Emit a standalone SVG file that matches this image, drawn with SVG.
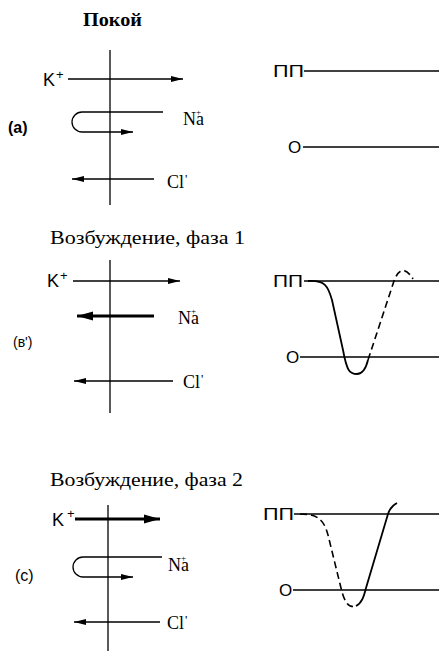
<svg xmlns="http://www.w3.org/2000/svg" width="439" height="651" viewBox="0 0 439 651">
<style>
.ln{stroke:#000;stroke-width:1.3;fill:none}
.thk{stroke:#000;stroke-width:3.2;fill:none}
.crv{stroke:#000;stroke-width:1.8;fill:none}
.dsh{stroke:#000;stroke-width:1.6;fill:none;stroke-dasharray:7 4}
.ser{font-family:"Liberation Serif","DejaVu Serif",serif;fill:#000}
.sans{font-family:"Liberation Sans","DejaVu Sans",sans-serif;fill:#000}
.ttl{font-size:18px}
.ion{font-size:18px}
.k{font-size:18px}
.pp{font-size:17px}
.lbl{font-size:16px}
</style>
<defs>
<marker id="ah" markerUnits="userSpaceOnUse" markerWidth="14" markerHeight="8" refX="12" refY="4" orient="auto">
<polygon points="0,1 12,4 0,7" fill="#000"/>
</marker>
<marker id="ahb" markerUnits="userSpaceOnUse" markerWidth="18" markerHeight="10" refX="16" refY="5" orient="auto">
<polygon points="0,0.5 16,5 0,9.5" fill="#000"/>
</marker>
</defs>

<g id="titles">
<text class="ser ttl" x="83" y="26" textLength="59" lengthAdjust="spacingAndGlyphs" font-weight="bold">Покой</text>
<text class="ser ttl" x="50" y="244" textLength="195" lengthAdjust="spacingAndGlyphs">Возбуждение, фаза 1</text>
<text class="ser ttl" x="50" y="486" textLength="193" lengthAdjust="spacingAndGlyphs">Возбуждение, фаза  2</text>
</g>

<g id="labels">
<text class="sans lbl" x="8" y="133" font-weight="bold">(а)</text>
<text class="sans" font-size="14" x="13" y="347">(в')</text>
<text class="sans lbl" x="15" y="581">(с)</text>
</g>

<g id="membrane-a">
<line class="ln" x1="110" y1="50" x2="110" y2="205"/>
</g>
<g id="membrane-b">
<line class="ln" x1="110" y1="260" x2="110" y2="413"/>
</g>
<g id="membrane-c">
<line class="ln" x1="108" y1="505" x2="108" y2="651"/>
</g>

<g id="connectors">
<line class="ln" x1="68" y1="79" x2="183" y2="79" marker-end="url(#ah)"/>
<path class="ln" d="M163,112 H82 A10,10 0 0 0 82,132 H133" marker-end="url(#ah)"/>
<line class="ln" x1="154" y1="179" x2="72" y2="179" marker-end="url(#ah)"/>
<line class="ln" x1="73" y1="281" x2="180" y2="281" marker-end="url(#ah)"/>
<line class="thk" x1="154" y1="316" x2="77" y2="316" marker-end="url(#ahb)"/>
<line class="ln" x1="173" y1="381" x2="74" y2="381" marker-end="url(#ah)"/>
<line class="thk" x1="75" y1="519" x2="160" y2="519" marker-end="url(#ahb)"/>
<path class="ln" d="M162,557 H83 A10,10 0 0 0 83,577 H133" marker-end="url(#ah)"/>
<line class="ln" x1="160" y1="622" x2="74" y2="622" marker-end="url(#ah)"/>
</g>

<g id="ions-a">
<text class="sans k" x="43" y="86">K<tspan font-size="13" dx="1" dy="-7">+</tspan></text>
<text class="ser ion" x="183" y="125">Na<tspan font-size="9" dx="-8" dy="-10">+</tspan></text>
<text class="ser ion" x="167" y="188">Cl<tspan font-size="13" dx="1" dy="-5">'</tspan></text>
</g>
<g id="ions-b">
<text class="sans k" x="47" y="287">K<tspan font-size="13" dx="1" dy="-7">+</tspan></text>
<text class="ser ion" x="178" y="324">Na<tspan font-size="9" dx="-8" dy="-10">+</tspan></text>
<text class="ser ion" x="183" y="388">Cl<tspan font-size="13" dx="1" dy="-5">'</tspan></text>
</g>
<g id="ions-c">
<text class="sans k" x="52" y="526">K<tspan font-size="13" dx="3" dy="-8">+</tspan></text>
<text class="ser ion" x="168" y="571">Na<tspan font-size="9" dx="-8" dy="-10">+</tspan></text>
<text class="ser ion" x="167" y="629">Cl<tspan font-size="13" dx="1" dy="-5">'</tspan></text>
</g>

<g id="potential-a">
<text class="sans pp" x="273" y="77" textLength="31" lengthAdjust="spacingAndGlyphs">ПП</text>
<line class="ln" x1="304" y1="71" x2="439" y2="71"/>
<text class="sans pp" x="288" y="153">О</text>
<line class="ln" x1="303" y1="147" x2="439" y2="147"/>
</g>

<g id="potential-b">
<text class="sans pp" x="273" y="287" textLength="30" lengthAdjust="spacingAndGlyphs">ПП</text>
<line class="ln" x1="304" y1="281" x2="439" y2="281"/>
<text class="sans pp" x="286" y="363">О</text>
<line class="ln" x1="300" y1="357" x2="439" y2="357"/>
<path class="crv" d="M308,281 C325,280 328,286 332,300 L343,350 C347,372 350,374 357,374 C363,374 366,368 368,360"/>
<path class="dsh" d="M368,360 L393,284 C398,268 405,266 413,279"/>
</g>

<g id="potential-c">
<text class="sans pp" x="263" y="520" textLength="31" lengthAdjust="spacingAndGlyphs">ПП</text>
<line class="ln" x1="294" y1="514" x2="439" y2="514"/>
<text class="sans pp" x="279" y="596">О</text>
<line class="ln" x1="293" y1="590" x2="439" y2="590"/>
<path class="dsh" d="M300,514 C318,514 324,520 328,535 L341,588 C345,605 350,608 356,606"/>
<path class="crv" d="M356,606 C362,603 364,596 366,588 L388,514 C390,508 393,505 397,503"/>
</g>
</svg>
